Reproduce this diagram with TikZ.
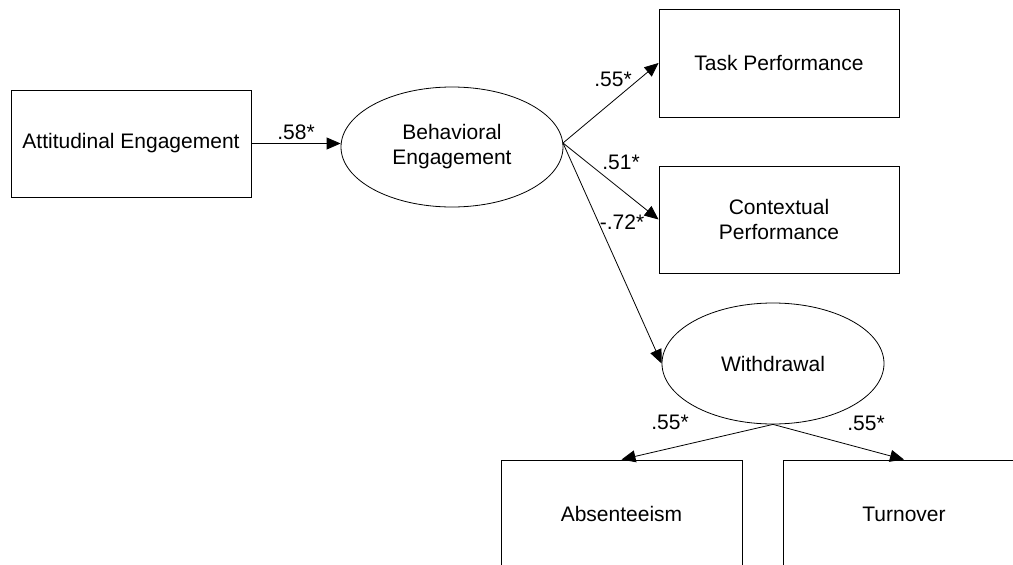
\documentclass[tikz,border=0pt]{standalone}
\usepackage{fontspec}
\setmainfont{Liberation Sans}
\usetikzlibrary{arrows.meta,shapes.geometric}
\begin{document}
\begin{tikzpicture}[x=1pt,y=-1pt,
  font=\fontsize{21}{25}\selectfont,
  box/.style={draw, line width=0.9pt, rectangle, inner sep=0pt, align=center},
  oval/.style={draw, line width=0.8pt, ellipse, inner sep=0pt, align=center},
  path/.style={draw, line width=0.8pt, -{Triangle[length=14pt,width=12pt]}},
  coef/.style={inner sep=0pt}]
\useasboundingbox (0,0) rectangle (1013,565);
\begin{scope}
\clip (0,0) rectangle (1013,565);
\node[box, minimum width=240pt, minimum height=107pt] (ae) at (131,143.5) {Attitudinal Engagement};
\node[oval, minimum width=222pt, minimum height=120pt] (be) at (452,147) {Behavioral\\Engagement};
\node[box, minimum width=240pt, minimum height=108pt] (tp) at (779,63) {Task Performance};
\node[box, minimum width=240pt, minimum height=107pt] (cp) at (779,219.5) {Contextual\\Performance};
\node[oval, minimum width=222pt, minimum height=121pt] (wd) at (773,363.5) {Withdrawal};
\node[box, minimum width=241pt, minimum height=108pt] (ab) at (621.5,514) {Absenteeism};
\node[box, minimum width=242pt, minimum height=108pt] (tu) at (904,514) {Turnover};

\coordinate (bs) at (563,143);
\draw[path] (ae.east) -- (ae.east -| be.west);
\draw[path] (bs) -- (tp.west);
\draw[path] (bs) -- (cp.west);
\draw[path] (bs) -- (wd.west);
\draw[path] (wd.south) -- (ab.north);
\draw[path] (wd.south) -- (tu.north);

\node[coef] (c1) at (296,132) {.58*};
\node[coef] (c2) at (613,79) {.55*};
\node[coef] (c3) at (621,162) {.51*};
\node[coef] (c4) at (622,222) {-.72*};
\node[coef] (c5) at (670,422) {.55*};
\node[coef] (c6) at (866,423) {.55*};
\end{scope}
\end{tikzpicture}
\end{document}
